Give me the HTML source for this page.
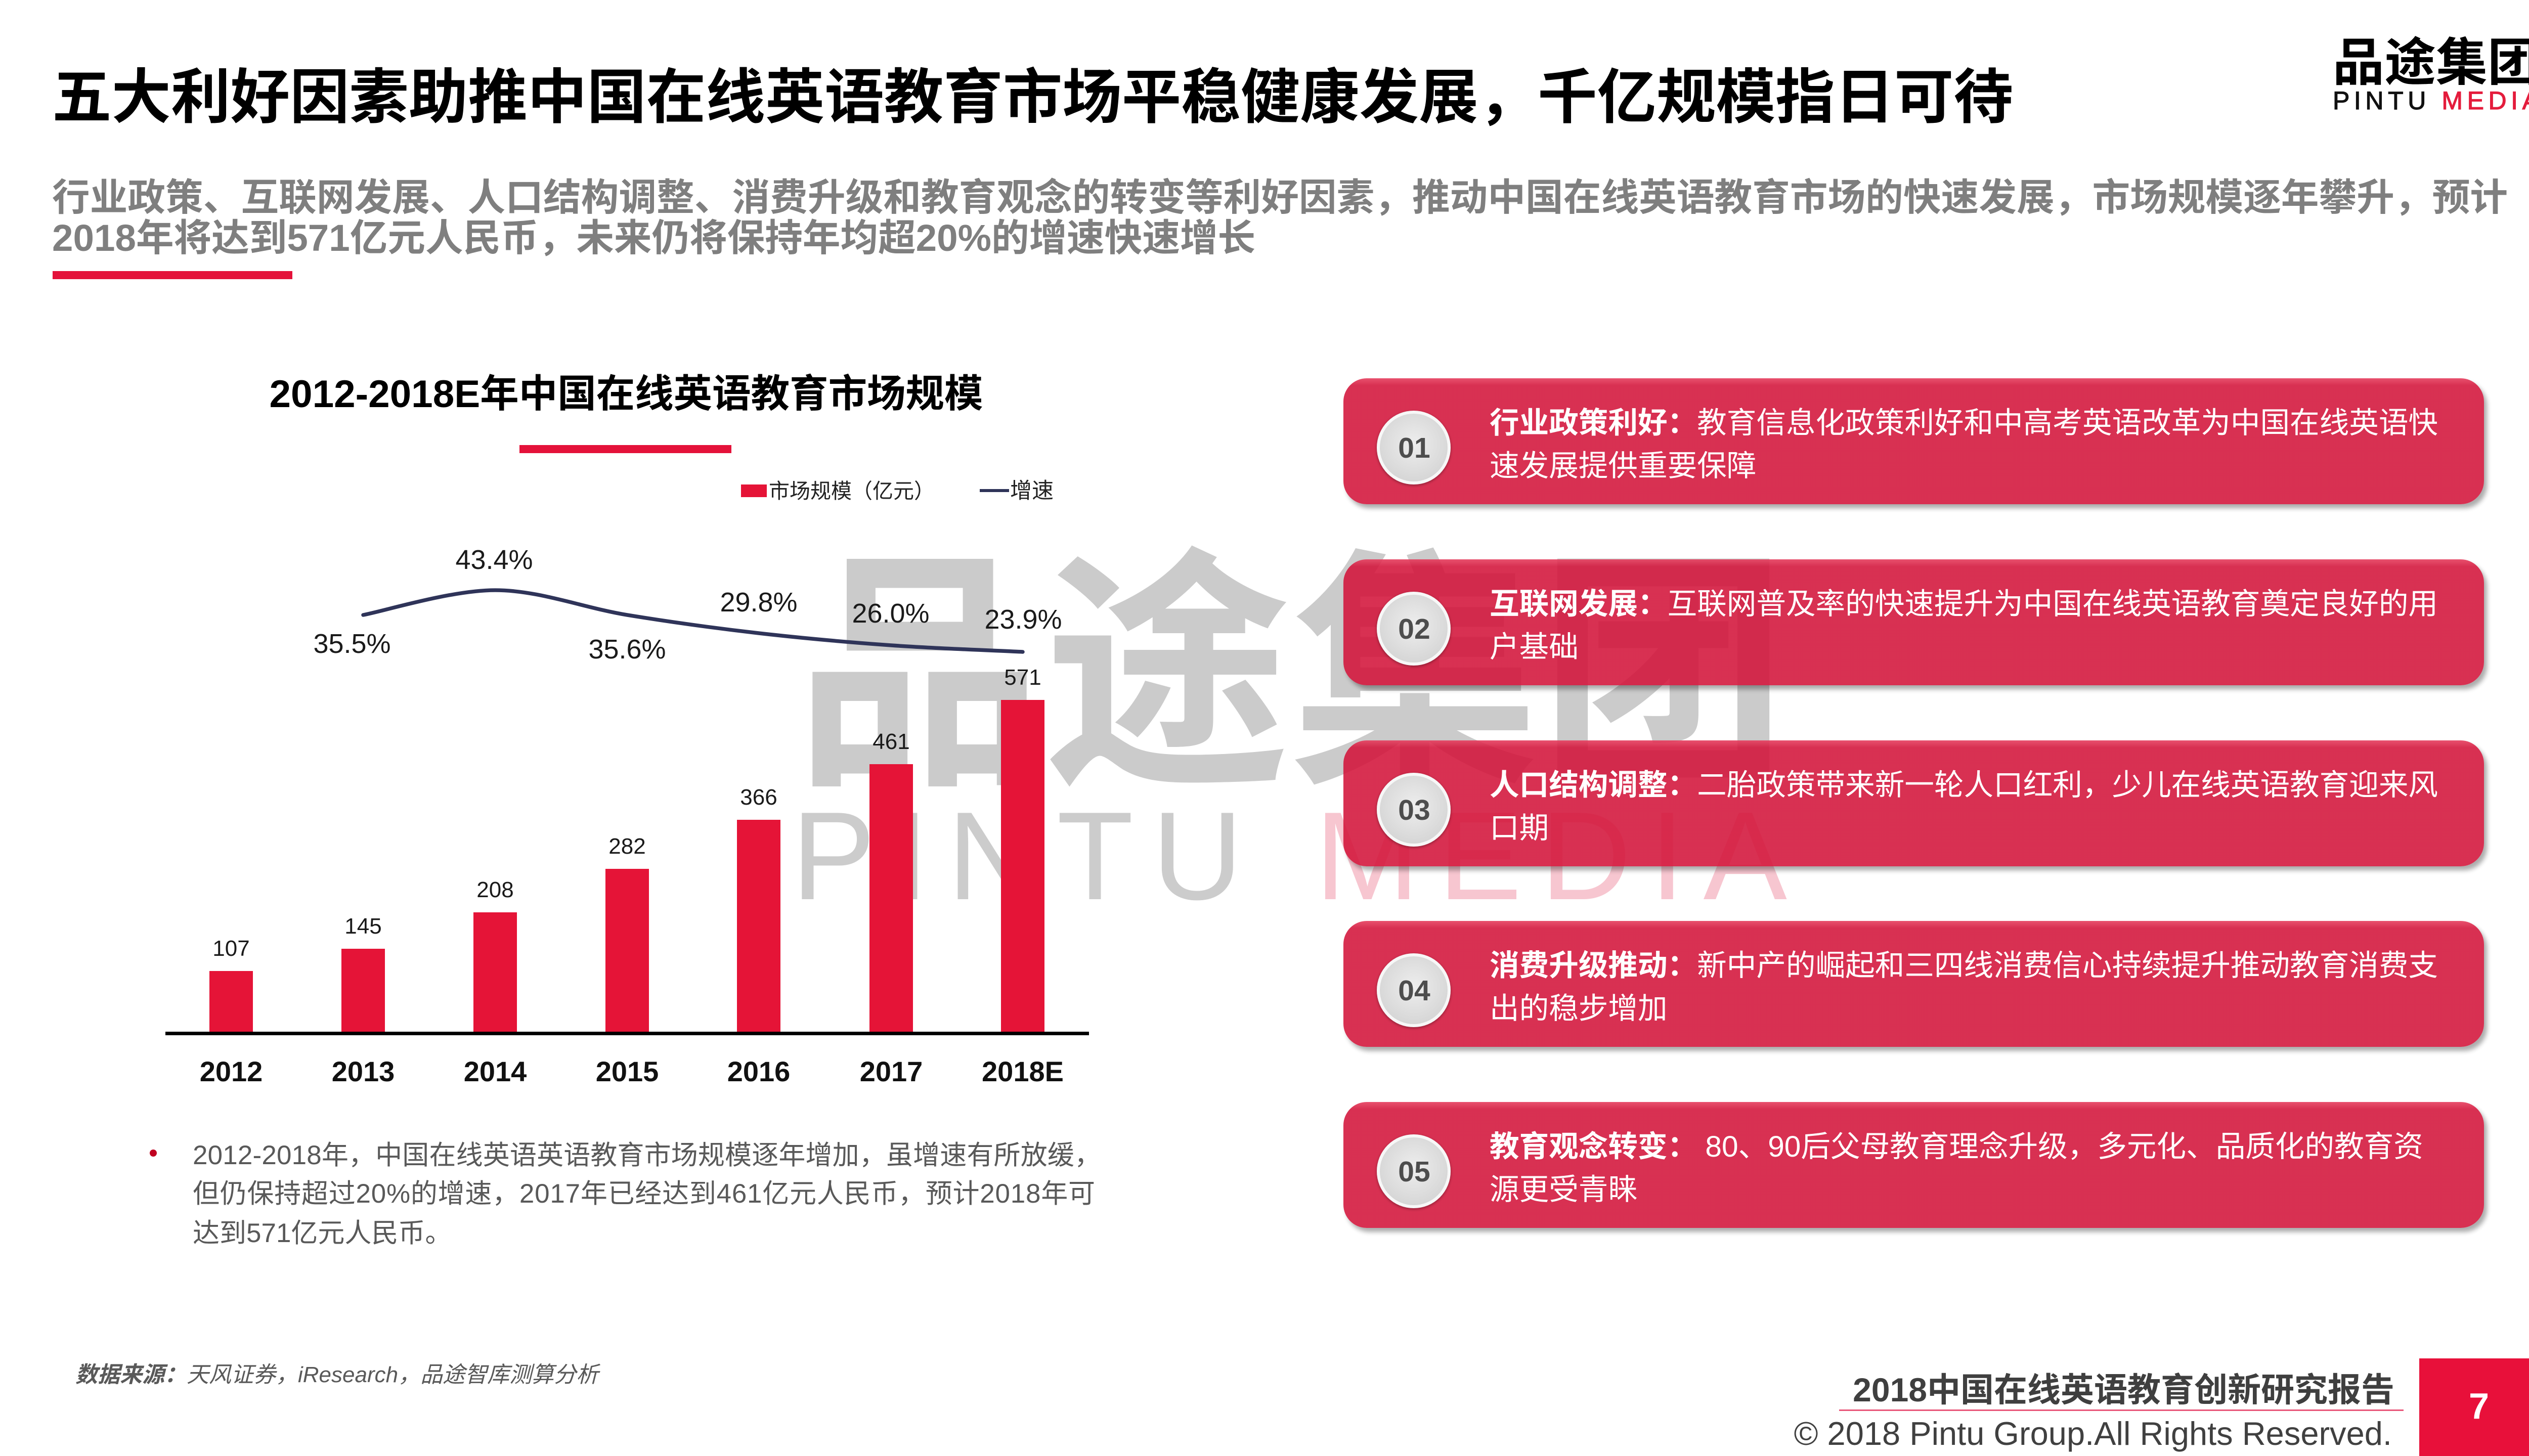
<!DOCTYPE html>
<html lang="zh-CN">
<head>
<meta charset="utf-8">
<style>
  html,body{margin:0;padding:0;background:#fff;}
  body{width:5119px;height:2879px;overflow:hidden;position:relative;}
  .layer{position:absolute;left:0;top:0;width:5119px;height:2879px;}
  .box{position:absolute;left:2656px;width:2255px;height:249px;border-radius:46px;
       background:linear-gradient(to bottom, rgba(230,62,94,0.9) 0px, rgba(211,20,58,0.88) 14px, rgba(211,20,58,0.88) 100%);
       box-shadow:6px 8px 9px rgba(0,0,0,0.33);}
  svg text{font-family:"Liberation Sans","Noto Sans CJK SC",sans-serif;}
</style>
</head>
<body>

<svg class="layer" width="5119" height="2879" viewBox="0 0 5119 2879" xmlns="http://www.w3.org/2000/svg">
  <!-- Watermark -->
  <text x="1572" y="1510" font-size="500" font-weight="700" fill="#cbcbcb" textLength="1962" lengthAdjust="spacingAndGlyphs">品途集团</text>
  <text x="1565" y="1778" font-size="248" font-weight="400" textLength="1968" lengthAdjust="spacing"><tspan fill="#cccccc">PINTU </tspan><tspan fill="#f7c6d0">MEDIA</tspan></text>

  <!-- Title -->
  <text x="103" y="233" font-size="117.5" font-weight="700" fill="#000" textLength="3877" lengthAdjust="spacingAndGlyphs">五大利好因素助推中国在线英语教育市场平稳健康发展，千亿规模指日可待</text>

  <!-- Logo -->
  <text x="4612" y="159" font-size="101.5" font-weight="700" fill="#000" textLength="408" lengthAdjust="spacingAndGlyphs">品途集团</text>
  <text x="4612" y="216" font-size="50" font-weight="400" stroke-width="1.2" textLength="408" lengthAdjust="spacing"><tspan fill="#111" stroke="#111">PINTU </tspan><tspan fill="#e41c3c" stroke="#e41c3c">MEDIA</tspan></text>

  <!-- Subtitle -->
  <text x="103" y="416" font-size="74.6" font-weight="700" fill="#7f7f7f" textLength="4855" lengthAdjust="spacing">行业政策、互联网发展、人口结构调整、消费升级和教育观念的转变等利好因素，推动中国在线英语教育市场的快速发展，市场规模逐年攀升，预计</text>
  <text x="103" y="496" font-size="74.6" font-weight="700" fill="#7f7f7f">2018年将达到571亿元人民币，未来仍将保持年均超20%的增速快速增长</text>
  <rect x="104" y="536" width="474" height="16" fill="#e4123a"/>

  <!-- Chart title -->
  <text x="1238" y="805" font-size="76.5" font-weight="700" fill="#000" text-anchor="middle" textLength="1411" lengthAdjust="spacingAndGlyphs">2012-2018E年中国在线英语教育市场规模</text>
  <rect x="1027" y="880" width="419" height="16" fill="#e4123a"/>

  <!-- Legend -->
  <rect x="1465" y="958" width="51" height="25" fill="#e51437"/>
  <text x="1520" y="985" font-size="41" fill="#222">市场规模（亿元）</text>
  <line x1="1937" y1="970" x2="1995" y2="970" stroke="#2f3459" stroke-width="6"/>
  <text x="1997" y="985" font-size="43" fill="#222">增速</text>

  <!-- Bars -->
  <g fill="#e51437">
    <rect x="414" y="1920" width="86" height="121"/>
    <rect x="675" y="1876" width="86" height="165"/>
    <rect x="936" y="1804" width="86" height="237"/>
    <rect x="1197" y="1718" width="86" height="323"/>
    <rect x="1457" y="1621" width="86" height="420"/>
    <rect x="1719" y="1511" width="86" height="530"/>
    <rect x="1979" y="1384" width="86" height="657"/>
  </g>
  <rect x="327" y="2040" width="1826" height="7" fill="#000"/>

  <!-- Bar value labels -->
  <g font-size="44" fill="#1a1a1a" text-anchor="middle">
    <text x="457" y="1890">107</text>
    <text x="718" y="1846">145</text>
    <text x="979" y="1774">208</text>
    <text x="1240" y="1688">282</text>
    <text x="1500" y="1591">366</text>
    <text x="1762" y="1481">461</text>
    <text x="2022" y="1354">571</text>
  </g>

  <!-- X axis labels -->
  <g font-size="56" font-weight="700" fill="#111" text-anchor="middle">
    <text x="457" y="2138">2012</text>
    <text x="718" y="2138">2013</text>
    <text x="979" y="2138">2014</text>
    <text x="1240" y="2138">2015</text>
    <text x="1500" y="2138">2016</text>
    <text x="1762" y="2138">2017</text>
    <text x="2022" y="2138">2018E</text>
  </g>

  <!-- Growth line -->
  <path d="M718,1216 C761.5,1207.8 892,1167 979,1167 C1066,1167 1153.2,1201.8 1240,1216 C1326.8,1230.2 1413,1242 1500,1252 C1587,1262 1675,1269.8 1762,1276 C1849,1282.2 1978.7,1286.8 2022,1289"
        fill="none" stroke="#2f3459" stroke-width="7.5" stroke-linecap="round"/>

  <!-- Growth labels -->
  <g font-size="54" fill="#1a1a1a" text-anchor="middle">
    <text x="696" y="1291">35.5%</text>
    <text x="977" y="1125">43.4%</text>
    <text x="1240" y="1302">35.6%</text>
    <text x="1500" y="1209">29.8%</text>
    <text x="1761" y="1231">26.0%</text>
    <text x="2023" y="1243">23.9%</text>
  </g>

  <!-- Bullet note -->
  <circle cx="303" cy="2280" r="7" fill="#c00020"/>
  <g font-size="53" fill="#595959">
    <text x="381" y="2302" textLength="1796" lengthAdjust="spacing">2012-2018年，中国在线英语英语教育市场规模逐年增加，虽增速有所放缓，</text>
    <text x="381" y="2378" textLength="1784" lengthAdjust="spacing">但仍保持超过20%的增速，2017年已经达到461亿元人民币，预计2018年可</text>
    <text x="381" y="2456">达到571亿元人民币。</text>
  </g>

  <!-- Source -->
  <text x="149" y="2733" font-size="44" font-style="italic" fill="#595959"><tspan font-weight="700">数据来源：</tspan>天风证券，iResearch，品途智库测算分析</text>

  <!-- Footer -->
  <text x="4734" y="2771" font-size="66" font-weight="700" fill="#3f3f3f" text-anchor="end">2018中国在线英语教育创新研究报告</text>
  <rect x="3636" y="2787" width="1116" height="3" fill="#e8577a"/>
  <text x="4729" y="2857" font-size="65" fill="#404040" text-anchor="end">© 2018 Pintu Group.All Rights Reserved.</text>
  <rect x="4783" y="2686" width="237" height="193" fill="#e8103a"/>
  <text x="4901" y="2805" font-size="72" font-weight="700" fill="#fff" text-anchor="middle">7</text>
</svg>

<!-- Boxes -->
<div class="box" style="top:748px;"></div>
<div class="box" style="top:1106px;"></div>
<div class="box" style="top:1464px;"></div>
<div class="box" style="top:1821px;"></div>
<div class="box" style="top:2179px;"></div>

<svg class="layer" width="5119" height="2879" viewBox="0 0 5119 2879" xmlns="http://www.w3.org/2000/svg">
  <defs>
    <radialGradient id="cg" cx="50%" cy="45%" r="55%">
      <stop offset="0%" stop-color="#eeeeee"/>
      <stop offset="100%" stop-color="#d6d6d6"/>
    </radialGradient>
    <filter id="cs" x="-20%" y="-20%" width="140%" height="140%">
      <feDropShadow dx="0" dy="2" stdDeviation="3" flood-color="#000" flood-opacity="0.35"/>
    </filter>
  </defs>

  <!-- circles -->
  <g>
    <circle cx="2795" cy="885" r="73" fill="#f7f7f7" filter="url(#cs)"/>
    <circle cx="2795" cy="885" r="67" fill="url(#cg)"/>
    <circle cx="2795" cy="1243" r="73" fill="#f7f7f7" filter="url(#cs)"/>
    <circle cx="2795" cy="1243" r="67" fill="url(#cg)"/>
    <circle cx="2795" cy="1601" r="73" fill="#f7f7f7" filter="url(#cs)"/>
    <circle cx="2795" cy="1601" r="67" fill="url(#cg)"/>
    <circle cx="2795" cy="1958" r="73" fill="#f7f7f7" filter="url(#cs)"/>
    <circle cx="2795" cy="1958" r="67" fill="url(#cg)"/>
    <circle cx="2795" cy="2316" r="73" fill="#f7f7f7" filter="url(#cs)"/>
    <circle cx="2795" cy="2316" r="67" fill="url(#cg)"/>
  </g>
  <g font-size="57" font-weight="700" fill="#4d4d4d" text-anchor="middle">
    <text x="2796" y="905">01</text>
    <text x="2796" y="1263">02</text>
    <text x="2796" y="1621">03</text>
    <text x="2796" y="1978">04</text>
    <text x="2796" y="2336">05</text>
  </g>

  <!-- box texts -->
  <g font-size="58.6" fill="#ffffff">
    <text x="2945" y="856"><tspan font-weight="700">行业政策利好：</tspan>教育信息化政策利好和中高考英语改革为中国在线英语快</text>
    <text x="2945" y="941">速发展提供重要保障</text>

    <text x="2945" y="1214"><tspan font-weight="700">互联网发展：</tspan>互联网普及率的快速提升为中国在线英语教育奠定良好的用</text>
    <text x="2945" y="1299">户基础</text>

    <text x="2945" y="1572"><tspan font-weight="700">人口结构调整：</tspan>二胎政策带来新一轮人口红利，少儿在线英语教育迎来风</text>
    <text x="2945" y="1657">口期</text>

    <text x="2945" y="1929"><tspan font-weight="700">消费升级推动：</tspan>新中产的崛起和三四线消费信心持续提升推动教育消费支</text>
    <text x="2945" y="2014">出的稳步增加</text>

    <text x="2945" y="2287"><tspan font-weight="700">教育观念转变：</tspan> 80、90后父母教育理念升级，多元化、品质化的教育资</text>
    <text x="2945" y="2372">源更受青睐</text>
  </g>
</svg>

</body>
</html>
